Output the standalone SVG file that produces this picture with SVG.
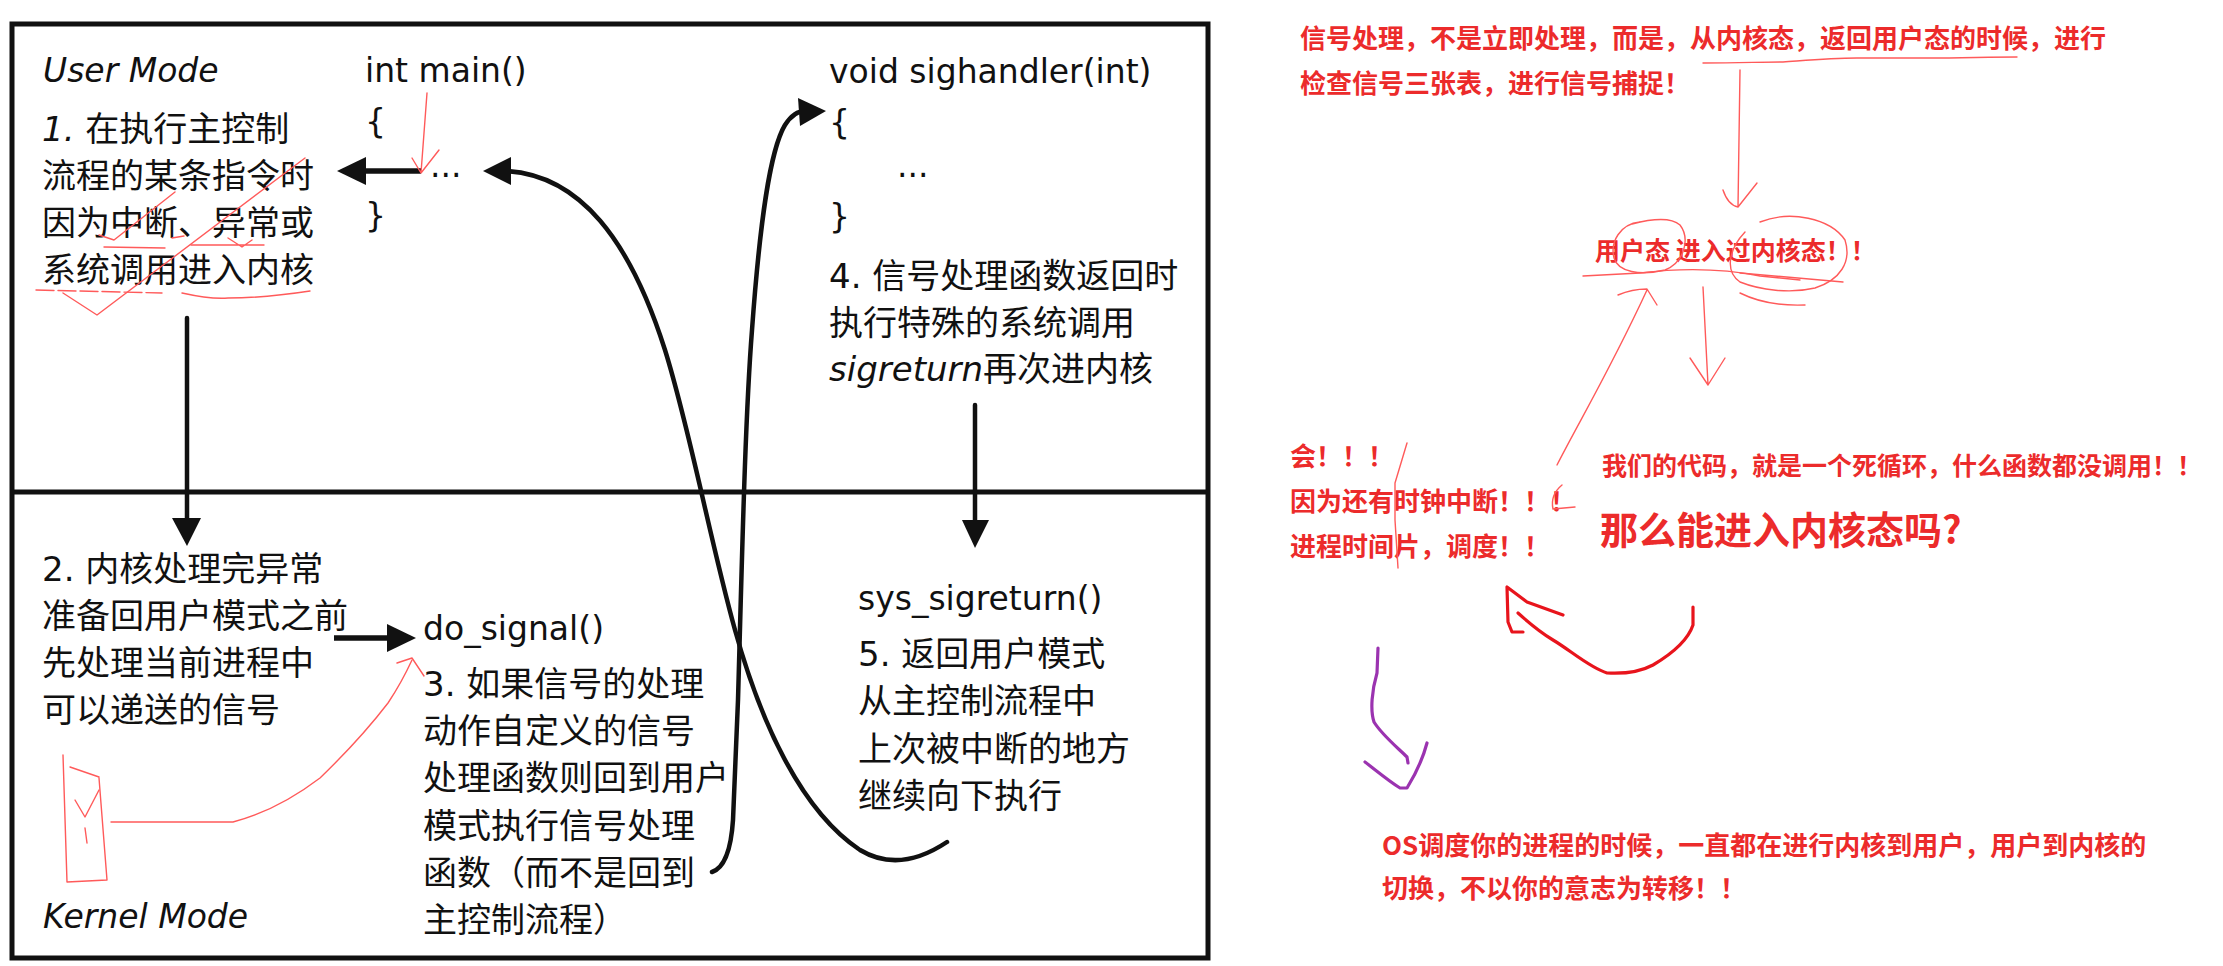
<svg xmlns="http://www.w3.org/2000/svg" width="2223" height="966" viewBox="0 0 2223 966">
<style>
.t{font-family:"DejaVu Sans","Noto Sans CJK SC",sans-serif;font-size:34px;fill:#111}
.c{font-family:"DejaVu Sans","Noto Sans CJK SC",sans-serif;font-size:33px;fill:#111}
.i{font-style:italic}
.r{font-family:"Noto Sans CJK SC","Microsoft YaHei",sans-serif;font-weight:bold;font-size:26px;fill:#ec2b2b}
.ln{fill:none;stroke:#111;stroke-width:4.5;stroke-linecap:round}
.sh{fill:none;stroke:#111;stroke-width:5.5}
.ah{fill:#111}
.pen{fill:none;stroke:#ff5a5a;stroke-width:1.4;stroke-linecap:round;stroke-linejoin:round}
.thick{fill:none;stroke:#e8141c;stroke-width:3.2;stroke-linecap:round;stroke-linejoin:round}
.purple{fill:none;stroke:#9b33b0;stroke-width:3.2;stroke-linecap:round;stroke-linejoin:round}
</style>
<rect width="2223" height="966" fill="#fff"/>

<g id="frame">
<rect x="12" y="24" width="1196" height="934" fill="none" stroke="#111" stroke-width="5"/>
<line x1="12" y1="492" x2="1208" y2="492" stroke="#111" stroke-width="5"/>
</g>

<g id="user-mode-label"><text class="c i" x="43" y="82">User Mode</text></g>
<g id="kernel-mode-label"><text class="c i" x="43" y="928">Kernel Mode</text></g>

<g id="main-func">
<text class="c" x="365" y="82">int main()</text>
<text class="c" x="365" y="133">{</text>
<text class="c" x="430" y="177">...</text>
<text class="c" x="365" y="227">}</text>
</g>

<g id="step1">
<text class="t" x="42" y="141"><tspan class="i">1.</tspan> 在执行主控制</text>
<text class="t" x="42" y="188">流程的某条指令时</text>
<text class="t" x="42" y="235">因为中断、异常或</text>
<text class="t" x="42" y="282">系统调用进入内核</text>
</g>

<g id="step2">
<text class="t" x="42" y="581">2. 内核处理完异常</text>
<text class="t" x="42" y="628">准备回用户模式之前</text>
<text class="t" x="42" y="675">先处理当前进程中</text>
<text class="t" x="42" y="722">可以递送的信号</text>
</g>

<g id="do-signal">
<text class="c" x="423" y="640">do_signal()</text>
<text class="t" x="423" y="696">3. 如果信号的处理</text>
<text class="t" x="423" y="743">动作自定义的信号</text>
<text class="t" x="423" y="790">处理函数则回到用户</text>
<text class="t" x="423" y="838">模式执行信号处理</text>
<text class="t" x="423" y="885">函数（而不是回到</text>
<text class="t" x="423" y="932">主控制流程）</text>
</g>

<g id="sighandler">
<text class="c" x="829" y="83">void sighandler(int)</text>
<text class="c" x="829" y="134">{</text>
<text class="c" x="897" y="177">...</text>
<text class="c" x="829" y="228">}</text>
</g>

<g id="step4">
<text class="t" x="829" y="288">4. 信号处理函数返回时</text>
<text class="t" x="829" y="335">执行特殊的系统调用</text>
<text class="t" x="829" y="381"><tspan class="i">sigreturn</tspan>再次进内核</text>
</g>

<g id="sys-sigreturn">
<text class="c" x="858" y="610">sys_sigreturn()</text>
<text class="t" x="858" y="666">5. 返回用户模式</text>
<text class="t" x="858" y="713">从主控制流程中</text>
<text class="t" x="858" y="761">上次被中断的地方</text>
<text class="t" x="858" y="808">继续向下执行</text>
</g>

<g id="connectors">
<!-- main ... to step1 -->
<line class="sh" x1="421" y1="171" x2="362" y2="171"/>
<polygon class="ah" points="337,171 366,157 366,185"/>
<!-- step1 down to step2 -->
<line class="ln" x1="187" y1="318" x2="187" y2="522"/>
<polygon class="ah" points="172,518 201,518 187,546"/>
<!-- step2 to do_signal -->
<line class="sh" x1="334" y1="638" x2="392" y2="638"/>
<polygon class="ah" points="387,624 387,652 416,638"/>
<!-- do_signal to sighandler -->
<path class="ln" d="M712 872 Q730 866 733 820 L738 700 C742 560 745 420 752 330 C760 220 770 150 785 125 Q794 111 805 111"/>
<polygon class="ah" points="826,111 798,98 800,126"/>
<!-- step4 down to sys_sigreturn -->
<line class="ln" x1="975" y1="405" x2="975" y2="524"/>
<polygon class="ah" points="962,520 989,520 975,548"/>
<!-- sys_sigreturn back to main -->
<path class="ln" d="M947 842 C920 860 890 868 860 850 C800 810 760 720 735 630 C710 540 690 430 665 350 C630 240 580 175 506 171"/>
<polygon class="ah" points="483,171 511,157 511,185"/>
</g>

<g id="pen-marks-box">
<path class="pen" d="M427 93 L421 173 M412 158 L421 173 L439 150"/>
<path class="pen" d="M305 158 L97 315 L63 293"/>
<path class="pen" d="M175 192 L114 240 L99 235"/>
<path class="pen" d="M104 247 L165 248 M172 238 L184 236"/>
<path class="pen" d="M191 245 L264 245 M228 238 L242 247 L252 240"/>
<path class="pen" d="M36 290 L162 293" stroke-dasharray="18 4"/>
<path class="pen" d="M182 293 C200 297 215 299 228 298 C250 298 271 297 310 291"/>
<path class="pen" d="M63 755 L67 882 L107 880 L99 778 M70 767 L99 777"/>
<path class="pen" d="M75 800 L85 817 L99 790 M85 828 L87 843"/>
<path class="pen" d="M111 822 L233 822 C260 815 291 800 320 778 C349 750 375 720 388 703 C398 688 406 673 412 660"/>
<path class="pen" d="M397 663 L412 658 L424 676"/>
</g>

<g id="note-top">
<text class="r" x="1300" y="48">信号处理，不是立即处理，而是，从内核态，返回用户态的时候，进行</text>
<text class="r" x="1300" y="93">检查信号三张表，进行信号捕捉！</text>
</g>

<g id="note-user-kernel">
<text class="r" x="1595" y="260" style="font-size:25px">用户态 进入过内核态！！</text>
</g>

<g id="note-clock">
<text class="r" x="1290" y="466">会！！！</text>
<text class="r" x="1290" y="511">因为还有时钟中断！！！</text>
<text class="r" x="1290" y="556">进程时间片，调度！！</text>
</g>

<g id="note-loop">
<text class="r" x="1602" y="475" style="font-size:25px">我们的代码，就是一个死循环，什么函数都没调用！！</text>
<text class="r" x="1600" y="544" style="font-size:38px">那么能进入内核态吗?</text>
</g>

<g id="note-os">
<text class="r" x="1382" y="855">OS调度你的进程的时候，一直都在进行内核到用户，用户到内核的</text>
<text class="r" x="1382" y="898">切换，不以你的意志为转移！！</text>
</g>

<g id="pen-marks-right">
<path class="pen" d="M1703 63 C1740 63 1760 62 1783 62 C1810 60 1830 58 1857 58 L1930 58 C1960 58 1990 57 2017 57"/>
<path class="pen" d="M1740 70 L1738 207 M1723 190 Q1728 205 1738 207 L1757 183"/>
<path class="pen" d="M1640 222 C1620 224 1610 242 1614 258 C1618 272 1640 276 1665 270 C1685 262 1690 238 1680 225 C1672 218 1655 218 1632 224"/>
<path class="pen" d="M1760 222 C1790 210 1830 218 1845 240 C1852 262 1840 280 1815 288 C1790 294 1760 290 1740 282 C1725 272 1728 250 1745 232"/>
<path class="pen" d="M1740 293 C1760 303 1780 306 1805 305 M1740 273 L1843 282"/>
<path class="pen" d="M1583 276 L1640 273 C1680 268 1720 268 1760 276 L1800 280"/>
<path class="pen" d="M1557 465 C1580 420 1610 370 1647 290 M1618 295 Q1632 289 1647 289 L1657 305"/>
<path class="pen" d="M1575 507 L1553 509 Q1550 495 1562 485"/>
<path class="pen" d="M1703 287 L1708 385 M1690 358 L1708 385 L1725 358"/>
<path class="pen" d="M1407 443 L1395 483 L1395 520 L1398 568"/>
<path class="thick" d="M1693 607 L1693 625 C1688 640 1675 652 1653 665 C1640 672 1625 674 1607 673 C1590 668 1570 650 1553 640 C1540 632 1528 622 1518 613"/>
<path class="thick" d="M1563 615 L1527 602 L1507 587 L1508 622 L1512 632 L1523 632"/>
<path class="purple" d="M1378 648 L1377 673 C1372 690 1370 710 1374 722 C1382 735 1398 748 1407 757 L1408 763"/>
<path class="purple" d="M1365 762 C1378 772 1390 782 1400 788 L1407 788 C1415 775 1422 762 1427 743"/>
</g>
</svg>
